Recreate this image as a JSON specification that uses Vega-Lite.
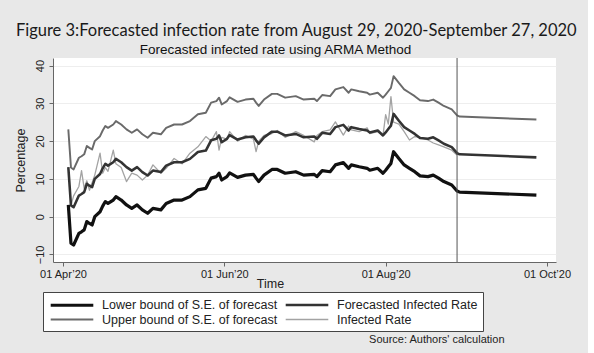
{
  "$schema": "https://vega.github.io/schema/vega-lite/v6.json",
  "background": "#e8e8e8",
  "padding": {"left": 14, "top": 22, "right": 10, "bottom": 8},
  "title": {"text": "Figure 3:Forecasted infection rate from August 29, 2020-September 27, 2020", "font": "Lato", "fontSize": 16.5, "fontWeight": "normal", "color": "#1a1a1a", "anchor": "middle", "dx": 4, "offset": 4},
  "vconcat": [
    {
      "title": {"text": "Source: Authors' calculation", "orient": "bottom", "anchor": "end", "font": "Liberation Sans", "fontSize": 11, "fontWeight": "normal", "color": "#222222", "dx": -66, "offset": 44},
      "vconcat": [
        {
          "title": {"text": "Forecasted infected rate using ARMA Method", "font": "Liberation Sans", "fontSize": 13.5, "fontWeight": "normal", "color": "#111111", "anchor": "middle", "dx": -29, "offset": 1},
          "width": 503,
          "height": 204,
          "layer": [
            {
              "data": {"values": [
                {"d": "2020-04-03", "lo": 3.1, "fc": 13.1, "up": 23.1, "ir": null},
                {"d": "2020-04-04", "lo": -7.0, "fc": 3.0, "up": 13.0, "ir": 3.0},
                {"d": "2020-04-05", "lo": -7.5, "fc": 2.5, "up": 12.5, "ir": 5.5},
                {"d": "2020-04-07", "lo": -4.4, "fc": 5.6, "up": 15.6, "ir": 8.0},
                {"d": "2020-04-08", "lo": -4.0, "fc": 6.0, "up": 16.0, "ir": 12.2},
                {"d": "2020-04-09", "lo": -3.5, "fc": 6.5, "up": 16.5, "ir": 7.5},
                {"d": "2020-04-10", "lo": -1.3, "fc": 8.7, "up": 18.7, "ir": 9.5},
                {"d": "2020-04-11", "lo": -1.8, "fc": 8.2, "up": 18.2, "ir": 7.0},
                {"d": "2020-04-12", "lo": -2.2, "fc": 7.8, "up": 17.8, "ir": 9.0},
                {"d": "2020-04-13", "lo": 0.0, "fc": 10.0, "up": 20.0, "ir": 11.0},
                {"d": "2020-04-15", "lo": 1.3, "fc": 11.3, "up": 21.3, "ir": 16.8},
                {"d": "2020-04-16", "lo": 2.8, "fc": 12.8, "up": 22.8, "ir": 11.5},
                {"d": "2020-04-17", "lo": 4.0, "fc": 14.0, "up": 24.0, "ir": 13.0},
                {"d": "2020-04-18", "lo": 3.5, "fc": 13.5, "up": 23.5, "ir": 12.0},
                {"d": "2020-04-20", "lo": 4.4, "fc": 14.4, "up": 24.4, "ir": 17.6},
                {"d": "2020-04-21", "lo": 5.3, "fc": 15.3, "up": 25.3, "ir": 14.0},
                {"d": "2020-04-23", "lo": 4.4, "fc": 14.4, "up": 24.4, "ir": 13.0},
                {"d": "2020-04-25", "lo": 3.1, "fc": 13.1, "up": 23.1, "ir": 9.3},
                {"d": "2020-04-27", "lo": 2.2, "fc": 12.2, "up": 22.2, "ir": 11.5},
                {"d": "2020-04-29", "lo": 3.1, "fc": 13.1, "up": 23.1, "ir": 11.0},
                {"d": "2020-05-01", "lo": 1.8, "fc": 11.8, "up": 21.8, "ir": 9.7},
                {"d": "2020-05-03", "lo": 0.9, "fc": 10.9, "up": 20.9, "ir": 11.0},
                {"d": "2020-05-05", "lo": 2.2, "fc": 12.2, "up": 22.2, "ir": 13.7},
                {"d": "2020-05-08", "lo": 1.8, "fc": 11.8, "up": 21.8, "ir": 11.5},
                {"d": "2020-05-10", "lo": 3.5, "fc": 13.5, "up": 23.5, "ir": 12.8},
                {"d": "2020-05-13", "lo": 4.4, "fc": 14.4, "up": 24.4, "ir": 15.4},
                {"d": "2020-05-16", "lo": 4.4, "fc": 14.4, "up": 24.4, "ir": 14.0},
                {"d": "2020-05-19", "lo": 5.3, "fc": 15.3, "up": 25.3, "ir": 16.8},
                {"d": "2020-05-22", "lo": 7.1, "fc": 17.1, "up": 27.1, "ir": 18.5},
                {"d": "2020-05-25", "lo": 7.5, "fc": 17.5, "up": 27.5, "ir": 21.2},
                {"d": "2020-05-27", "lo": 10.2, "fc": 20.2, "up": 30.2, "ir": 20.0},
                {"d": "2020-05-29", "lo": 10.6, "fc": 20.6, "up": 30.6, "ir": 22.5},
                {"d": "2020-05-30", "lo": 11.5, "fc": 21.5, "up": 31.5, "ir": 17.6},
                {"d": "2020-05-31", "lo": 9.7, "fc": 19.7, "up": 29.7, "ir": 21.0},
                {"d": "2020-06-02", "lo": 10.6, "fc": 20.6, "up": 30.6, "ir": 20.5},
                {"d": "2020-06-03", "lo": 11.6, "fc": 21.6, "up": 31.6, "ir": 22.5},
                {"d": "2020-06-06", "lo": 10.4, "fc": 20.4, "up": 30.4, "ir": 20.0},
                {"d": "2020-06-09", "lo": 11.0, "fc": 21.0, "up": 31.0, "ir": 21.5},
                {"d": "2020-06-12", "lo": 11.2, "fc": 21.2, "up": 31.2, "ir": 20.5},
                {"d": "2020-06-13", "lo": 10.2, "fc": 20.2, "up": 30.2, "ir": 17.2},
                {"d": "2020-06-14", "lo": 9.3, "fc": 19.3, "up": 29.3, "ir": 20.0},
                {"d": "2020-06-16", "lo": 11.0, "fc": 21.0, "up": 31.0, "ir": 21.5},
                {"d": "2020-06-19", "lo": 12.5, "fc": 22.5, "up": 32.5, "ir": 22.0},
                {"d": "2020-06-21", "lo": 12.5, "fc": 22.5, "up": 32.5, "ir": 22.8},
                {"d": "2020-06-24", "lo": 11.5, "fc": 21.5, "up": 31.5, "ir": 21.0},
                {"d": "2020-06-28", "lo": 11.9, "fc": 21.9, "up": 31.9, "ir": 22.5},
                {"d": "2020-07-01", "lo": 11.0, "fc": 21.0, "up": 31.0, "ir": 21.5},
                {"d": "2020-07-05", "lo": 11.2, "fc": 21.2, "up": 31.2, "ir": 19.8},
                {"d": "2020-07-06", "lo": 10.6, "fc": 20.6, "up": 30.6, "ir": 21.5},
                {"d": "2020-07-08", "lo": 12.2, "fc": 22.2, "up": 32.2, "ir": 22.5},
                {"d": "2020-07-11", "lo": 11.9, "fc": 21.9, "up": 31.9, "ir": 23.0},
                {"d": "2020-07-13", "lo": 13.7, "fc": 23.7, "up": 33.7, "ir": 25.1},
                {"d": "2020-07-16", "lo": 14.3, "fc": 24.3, "up": 34.3, "ir": 21.6},
                {"d": "2020-07-18", "lo": 12.8, "fc": 22.8, "up": 32.8, "ir": 24.0},
                {"d": "2020-07-19", "lo": 13.7, "fc": 23.7, "up": 33.7, "ir": 23.0},
                {"d": "2020-07-22", "lo": 13.2, "fc": 23.2, "up": 33.2, "ir": 22.5},
                {"d": "2020-07-25", "lo": 12.8, "fc": 22.8, "up": 32.8, "ir": 23.5},
                {"d": "2020-07-26", "lo": 12.3, "fc": 22.3, "up": 32.3, "ir": 22.0},
                {"d": "2020-07-29", "lo": 12.8, "fc": 22.8, "up": 32.8, "ir": 22.5},
                {"d": "2020-07-31", "lo": 11.5, "fc": 21.5, "up": 31.5, "ir": 21.5},
                {"d": "2020-08-01", "lo": 12.3, "fc": 22.3, "up": 32.3, "ir": 27.0},
                {"d": "2020-08-02", "lo": 13.2, "fc": 23.2, "up": 33.2, "ir": 24.5},
                {"d": "2020-08-03", "lo": 14.1, "fc": 24.1, "up": 34.1, "ir": 31.8},
                {"d": "2020-08-04", "lo": 17.2, "fc": 27.2, "up": 37.2, "ir": 25.0},
                {"d": "2020-08-06", "lo": 15.4, "fc": 25.4, "up": 35.4, "ir": 24.5},
                {"d": "2020-08-08", "lo": 13.7, "fc": 23.7, "up": 33.7, "ir": 22.5},
                {"d": "2020-08-10", "lo": 12.8, "fc": 22.8, "up": 32.8, "ir": 20.3},
                {"d": "2020-08-12", "lo": 11.9, "fc": 21.9, "up": 31.9, "ir": 21.2},
                {"d": "2020-08-14", "lo": 10.8, "fc": 20.8, "up": 30.8, "ir": 21.0},
                {"d": "2020-08-17", "lo": 10.6, "fc": 20.6, "up": 30.6, "ir": 20.3},
                {"d": "2020-08-19", "lo": 11.0, "fc": 21.0, "up": 31.0, "ir": 19.5},
                {"d": "2020-08-21", "lo": 10.2, "fc": 20.2, "up": 30.2, "ir": 19.0},
                {"d": "2020-08-23", "lo": 9.3, "fc": 19.3, "up": 29.3, "ir": 18.5},
                {"d": "2020-08-26", "lo": 8.4, "fc": 18.4, "up": 28.4, "ir": 17.6},
                {"d": "2020-08-28", "lo": 6.8, "fc": 16.8, "up": 26.8, "ir": 16.3},
                {"d": "2020-08-29", "lo": 6.5, "fc": 16.5, "up": 26.5, "ir": null},
                {"d": "2020-09-27", "lo": 5.7, "fc": 15.7, "up": 25.7, "ir": null}
              ]},
              "transform": [{"fold": ["ir", "up", "fc", "lo"], "as": ["series", "value"]}],
              "mark": {"type": "line", "strokeJoin": "round"},
              "encoding": {
                "x": {
                  "field": "d", "type": "temporal",
                  "scale": {"type": "utc", "domain": [{"year": 2020, "month": 3, "date": 28, "hours": 5, "utc": true}, {"year": 2020, "month": 10, "date": 4, "hours": 10, "utc": true}]},
                  "axis": {
                    "values": [{"year": 2020, "month": 4, "date": 1, "utc": true}, {"year": 2020, "month": 6, "date": 1, "utc": true}, {"year": 2020, "month": 8, "date": 1, "utc": true}, {"year": 2020, "month": 10, "date": 1, "utc": true}],
                    "format": "%d %b’%y", "title": "Time", "grid": false, "labelPadding": 2,
                    "titleX": 217, "titleY": 21, "titleBaseline": "middle", "titleAlign": "center"
                  }
                },
                "y": {
                  "field": "value", "type": "quantitative",
                  "scale": {"domain": [-12, 42], "nice": false, "zero": false},
                  "axis": {"values": [-10, 0, 10, 20, 30, 40], "title": "Percentage", "labelAngle": 270, "labelPadding": 4, "titlePadding": 7, "grid": true, "gridColor": "#eeeeee"}
                },
                "color": {
                  "field": "series", "type": "nominal",
                  "scale": {"domain": ["lo", "fc", "up", "ir"], "range": ["#111111", "#333333", "#6a6a6a", "#a3a3a3"]},
                  "legend": {
                    "orient": "none", "legendX": -10, "legendY": 234, "title": null, "columns": 2, "direction": "horizontal",
                    "symbolType": "M-3.55,0L3.55,0", "symbolSize": 144, "symbolOffset": 16,
                    "labelFontSize": 12.5, "labelFont": "Liberation Sans", "labelColor": "#222222",
                    "labelLimit": 0, "labelOffset": 22, "columnPadding": 2, "rowPadding": 0.5, "padding": 5,
                    "strokeColor": "#444444", "fillColor": "#ffffff",
                    "labelExpr": "datum.value === 'lo' ? 'Lower bound of S.E. of forecast' : datum.value === 'fc' ? 'Forecasted Infected Rate' : datum.value === 'up' ? 'Upper bound of S.E. of forecast' : 'Infected Rate'",
                    "encode": {"symbols": {"update": {"strokeWidth": {"signal": "datum.value === 'lo' ? 3.2 : 1.3"}}}}
                  }
                },
                "strokeWidth": {
                  "field": "series", "type": "nominal",
                  "scale": {"domain": ["lo", "fc", "up", "ir"], "range": [3.2, 1.3, 1.3, 1.3]},
                  "legend": null
                }
              }
            },
            {
              "data": {"values": [{"d": "2020-08-28"}]},
              "mark": {"type": "rule", "color": "#555555", "strokeWidth": 1},
              "encoding": {
                "x": {"field": "d", "type": "temporal", "scale": {"type": "utc", "domain": [{"year": 2020, "month": 3, "date": 28, "hours": 5, "utc": true}, {"year": 2020, "month": 10, "date": 4, "hours": 10, "utc": true}]}}
              }
            }
          ]
        }
      ]
    }
  ],
  "config": {
    "view": {"stroke": null, "fill": "#ffffff"},
    "font": "Liberation Sans",
    "axis": {
      "labelFont": "Liberation Sans", "labelFontSize": 11, "labelColor": "#222222",
      "titleFont": "Liberation Sans", "titleFontSize": 12.5, "titleFontWeight": "normal", "titleColor": "#222222",
      "domainColor": "#666666", "tickColor": "#666666", "tickSize": 4
    }
  }
}
